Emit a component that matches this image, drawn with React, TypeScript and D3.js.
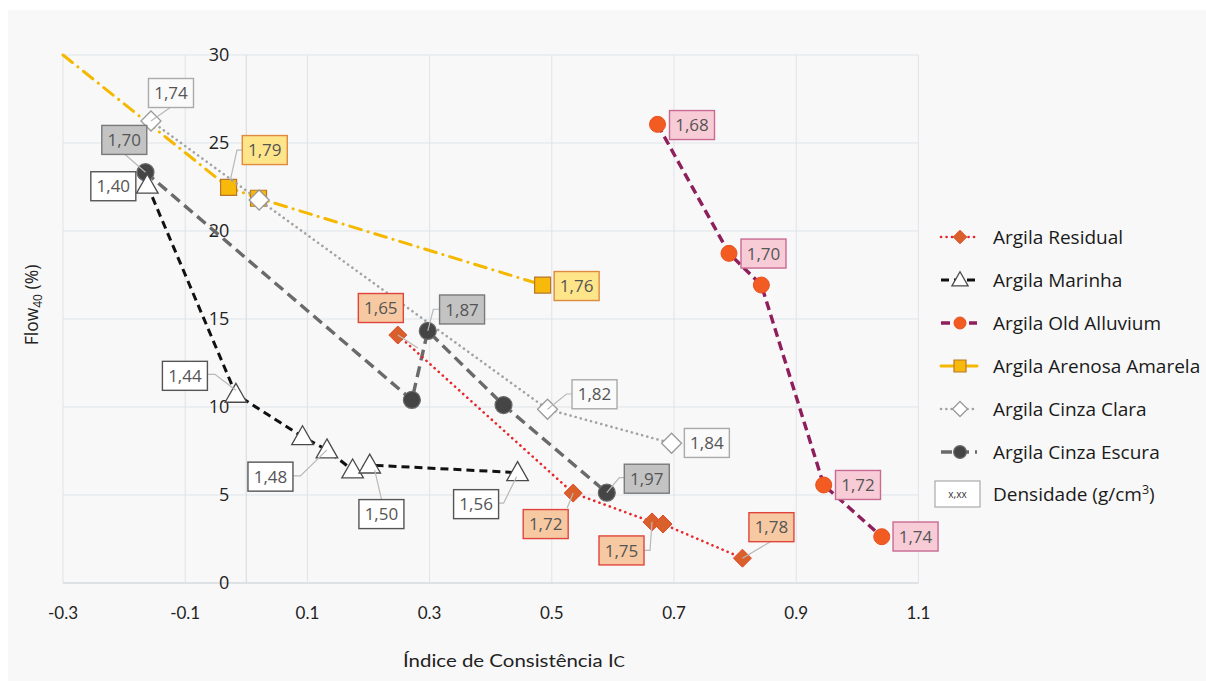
import React from "react";
import * as d3 from "d3";

// ---------- data ----------
const xTicks = [-0.3, -0.1, 0.1, 0.3, 0.5, 0.7, 0.9, 1.1];
const yTicks = [0, 5, 10, 15, 20, 25, 30];

const residualX = [0.248, 0.535, 0.664, 0.682, 0.812];
const residualY = [14.09, 5.11, 3.47, 3.35, 1.41];
const residualLabels = ["1,65", "1,72", "1,75", "", "1,78"];

const marinhaX = [-0.162, -0.017, 0.092, 0.132, 0.174, 0.202, 0.444];
const marinhaY = [22.6, 10.72, 8.31, 7.56, 6.42, 6.7, 6.27];
const marinhaLabels = ["1,40", "1,44", "", "1,48", "", "1,50", "1,56"];

const alluviumX = [0.673, 0.79, 0.843, 0.945, 1.04];
const alluviumY = [26.06, 18.73, 16.93, 5.57, 2.63];
const alluviumLabels = ["1,68", "1,70", "", "1,72", "1,74"];

const arenosaX = [-0.3, -0.029, 0.02, 0.485];
const arenosaY = [30, 22.48, 21.86, 16.93];
const arenosaMarker = [false, true, true, true];
const arenosaLabels = ["", "1,79", "", "1,76"];

const claraX = [-0.156, 0.021, 0.493, 0.696];
const claraY = [26.25, 21.76, 9.87, 7.94];
const claraLabels = ["1,74", "", "1,82", "1,84"];

const escuraX = [-0.165, 0.271, 0.297, 0.421, 0.59];
const escuraY = [23.34, 10.4, 14.32, 10.11, 5.13];
const escuraLabels = ["1,70", "", "1,87", "", "1,97"];

const seriesNames = [
  "Argila Residual",
  "Argila Marinha",
  "Argila Old Alluvium",
  "Argila Arenosa Amarela",
  "Argila Cinza Clara",
  "Argila Cinza Escura",
];

// ---------- layout / styles ----------
const W = 1206;
const H = 681;
const X0 = 63, X1 = 918.4, Y0 = 583, Y1 = 55;

type Style = {
  stroke: string; width: number; dash: string; cap: string;
  marker: "diamond" | "triangle" | "circle" | "square";
  mSize: number; mFill: string; mStroke: string; mStrokeW: number;
  boxFill: string; boxStroke: string;
};

const styles: Style[] = [
  { stroke: "#e8262a", width: 2.6, dash: "0.1 5.4", cap: "round", marker: "diamond", mSize: 9, mFill: "#d9602a", mStroke: "#e4482a", mStrokeW: 1, boxFill: "#f6c9a2", boxStroke: "#e0453c" },
  { stroke: "#111111", width: 3, dash: "8 5", cap: "butt", marker: "triangle", mSize: 11, mFill: "#ffffff", mStroke: "#4a4a4a", mStrokeW: 1.3, boxFill: "#ffffff", boxStroke: "#555555" },
  { stroke: "#8e1f5c", width: 3.4, dash: "9 5", cap: "butt", marker: "circle", mSize: 8, mFill: "#f25c22", mStroke: "#e85020", mStrokeW: 1, boxFill: "#f7ccd6", boxStroke: "#c86a92" },
  { stroke: "#f5b800", width: 3, dash: "12 7 0.1 7", cap: "round", marker: "square", mSize: 8, mFill: "#f7b90a", mStroke: "#b8762a", mStrokeW: 1.2, boxFill: "#ffe58a", boxStroke: "#e08a40" },
  { stroke: "#a3a3a3", width: 2.6, dash: "0.1 5.2", cap: "round", marker: "diamond", mSize: 10, mFill: "#ffffff", mStroke: "#9a9a9a", mStrokeW: 1.3, boxFill: "#fafafa", boxStroke: "#aaaaaa" },
  { stroke: "#6a6a6a", width: 3.4, dash: "11 6", cap: "butt", marker: "circle", mSize: 8.5, mFill: "#454545", mStroke: "#6a6a6a", mStrokeW: 1.2, boxFill: "#c3c3c3", boxStroke: "#7a7a7a" },
];

// label box offsets (px, box centre relative to point) and optional leader elbow
type LP = { dx: number; dy: number; leader?: [number, number][] };
const labelPlacement: Record<string, LP> = {
  "0-0": { dx: -17, dy: -27, leader: [[20, 13], [0, 0]] },
  "0-1": { dx: -27.5, dy: 31, leader: [[-6, 15], [0, 0]] },
  "0-2": { dx: -30.5, dy: 28.5, leader: [[-8, 28.5], [-2, 28.5], [0, 0]] },
  "0-4": { dx: 29, dy: -31, leader: [[28, -16.5], [0, 0]] },
  "1-0": { dx: -34, dy: 1, leader: [] },
  "1-1": { dx: -51, dy: -18.5, leader: [[-29, -20], [-21, -20], [0, -4]] },
  "1-3": { dx: -56.5, dy: 26.7, leader: [[-34, 26], [-26.5, 26], [0, 0]] },
  "1-5": { dx: 11.7, dy: 49, leader: [[11.7, 34], [5, 5]] },
  "1-6": { dx: -41.5, dy: 31.5, leader: [[-19, 30.5], [-14, 30.5], [-1, 4]] },
  "2-0": { dx: 34.5, dy: 0.7, leader: [] },
  "2-1": { dx: 34.5, dy: 0.2, leader: [] },
  "2-3": { dx: 34.3, dy: 0, leader: [] },
  "2-4": { dx: 33.8, dy: -0.2, leader: [] },
  "3-1": { dx: 36.2, dy: -37.3, leader: [[14, -37.3], [8.4, -37.3], [1.7, -7]] },
  "3-3": { dx: 34, dy: 1, leader: [] },
  "4-0": { dx: 20, dy: -28, leader: [[20, -14], [0, 0]] },
  "4-2": { dx: 47, dy: -15, leader: [[25, -15.3], [19, -15.3], [0, 0]] },
  "4-3": { dx: 35.3, dy: -0.3, leader: [] },
  "5-0": { dx: -21.2, dy: -32.3, leader: [[-20.7, -18], [0, 0]] },
  "5-2": { dx: 34.3, dy: -21.5, leader: [[12.3, -21.7], [5.6, -21.7], [0, 0]] },
  "5-4": { dx: 40, dy: -14, leader: [[17.6, -15], [12.6, -15], [0, 0]] },
};

const FONT = "'Open Sans', Lato, sans-serif";
const NARROW = "Lato, 'Open Sans', sans-serif";

function markerPath(kind: Style["marker"], s: number) {
  if (kind === "diamond") return `M0,${-s}L${s},0L0,${s}L${-s},0Z`;
  if (kind === "triangle") return `M0,${-s * 1.0}L${s * 0.98},${s * 0.72}L${-s * 0.98},${s * 0.72}Z`;
  if (kind === "square") return `M${-s},${-s}H${s}V${s}H${-s}Z`;
  return d3.symbol(d3.symbolCircle, Math.PI * s * s)() as string;
}

export default function App() {
  const x = d3.scaleLinear().domain([-0.3, 1.1]).range([X0, X1]);
  const y = d3.scaleLinear().domain([0, 30]).range([Y0, Y1]);

  const allSeries = [
    { xs: residualX, ys: residualY, labels: residualLabels, show: residualX.map(() => true) },
    { xs: marinhaX, ys: marinhaY, labels: marinhaLabels, show: marinhaX.map(() => true) },
    { xs: alluviumX, ys: alluviumY, labels: alluviumLabels, show: alluviumX.map(() => true) },
    { xs: arenosaX, ys: arenosaY, labels: arenosaLabels, show: arenosaMarker },
    { xs: claraX, ys: claraY, labels: claraLabels, show: claraX.map(() => true) },
    { xs: escuraX, ys: escuraY, labels: escuraLabels, show: escuraX.map(() => true) },
  ];

  const line = d3.line<[number, number]>().x((d) => x(d[0])).y((d) => y(d[1]));
  const gridX = [-0.3, -0.1, 0.1, 0.3, 0.5, 0.7, 0.9, 1.1];
  const boxW = 45, boxH = 29;

  const order = [3, 4, 5, 1, 0, 2];

  return (
    <svg width={W} height={H} style={{ position: "absolute", left: 0, top: 0 }} fontFamily={FONT}>
      <rect x={0} y={0} width={W} height={H} fill="#ffffff" />
      <rect x={8} y={10} width={W - 8} height={H - 10} fill="#f8f8f8" />

      {/* grid */}
      {gridX.map((v) => (
        <line key={"gx" + v} x1={x(v)} x2={x(v)} y1={Y1} y2={Y0} stroke="#dfe4e8" strokeWidth={1} />
      ))}
      {yTicks.map((v) => (
        <line key={"gy" + v} x1={X0} x2={X1} y1={y(v)} y2={y(v)} stroke="#dfe4e8" strokeWidth={1} />
      ))}
      <line x1={x(0)} x2={x(0)} y1={Y1} y2={Y0} stroke="#d6dde3" strokeWidth={1.2} />
      <line x1={X0} x2={X1} y1={y(0)} y2={y(0)} stroke="#cfd5da" strokeWidth={1.2} />

      {/* y tick labels */}
      {yTicks.map((v) => (
        <text key={"yt" + v} x={x(0) - 17} y={y(v)} dy="0.35em" textAnchor="end" fontSize={18} fill="#222">
          {v}
        </text>
      ))}
      {/* x tick labels */}
      {xTicks.map((v) => (
        <text key={"xt" + v} x={x(v)} y={619} textAnchor="middle" fontSize={17} fill="#222" fontFamily={NARROW}>
          {d3.format(".1f")(v).replace("−", "-")}
        </text>
      ))}

      {/* axis titles */}
      <text x={514} y={667} textAnchor="middle" fontSize={18} fill="#222" fontFamily={NARROW}
        textLength={222} lengthAdjust="spacingAndGlyphs">
        Índice de Consistência I<tspan fontSize={15}>C</tspan>
      </text>
      <text transform="translate(38,305) rotate(-90)" textAnchor="middle" fontSize={17.5} fill="#222">
        Flow<tspan fontSize={12} dy={4}>40</tspan>
        <tspan dy={-4}> (%)</tspan>
      </text>

      {/* series */}
      {order.map((si) => {
        const s = allSeries[si];
        const st = styles[si];
        const pts = s.xs.map((v, i) => [v, s.ys[i]] as [number, number]);
        return (
          <g key={"s" + si}>
            <path d={line(pts) as string} fill="none" stroke={st.stroke} strokeWidth={st.width}
              strokeDasharray={st.dash} strokeLinecap={st.cap as any} />
            {pts.map((p, i) =>
              s.show[i] ? (
                <path key={i} transform={`translate(${x(p[0])},${y(p[1])})`} d={markerPath(st.marker, st.mSize)}
                  fill={st.mFill} stroke={st.mStroke} strokeWidth={st.mStrokeW} />
              ) : null
            )}
          </g>
        );
      })}

      {/* data labels */}
      {allSeries.map((s, si) =>
        s.labels.map((lab, i) => {
          if (!lab) return null;
          const lp = labelPlacement[`${si}-${i}`];
          if (!lp) return null;
          const px = x(s.xs[i]), py = y(s.ys[i]);
          const cx = px + lp.dx, cy = py + lp.dy;
          const st = styles[si];
          return (
            <g key={`l${si}-${i}`}>
              {lp.leader && lp.leader.length > 1 && (
                <polyline points={lp.leader.map((q) => `${px + q[0]},${py + q[1]}`).join(" ")} fill="none"
                  stroke="#b8b8b8" strokeWidth={1.2} />
              )}
              <rect x={cx - boxW / 2} y={cy - boxH / 2} width={boxW} height={boxH} fill={st.boxFill}
                stroke={st.boxStroke} strokeWidth={1.4} />
              <text x={cx} y={cy} dy="0.36em" textAnchor="middle" fontSize={17} fill="#555">{lab}</text>
            </g>
          );
        })
      )}

      {/* legend */}
      {seriesNames.map((name, i) => {
        const st = styles[i];
        const ly = 237 + i * 43;
        return (
          <g key={"lg" + i}>
            <line x1={941} x2={977} y1={ly} y2={ly} stroke={st.stroke} strokeWidth={st.width}
              strokeDasharray={st.dash} strokeLinecap={st.cap as any} />
            <path transform={`translate(960,${ly})`} d={markerPath(st.marker, st.mSize * 0.75)}
              fill={st.mFill} stroke={st.mStroke} strokeWidth={st.mStrokeW} />
            <text x={993} y={ly} dy="0.35em" fontSize={19} fill="#1a1a1a">{name}</text>
          </g>
        );
      })}
      <g>
        <rect x={935} y={481} width={45} height={26} fill="#ffffff" stroke="#aaaaaa" strokeWidth={1.2} />
        <text x={957.5} y={494} dy="0.35em" textAnchor="middle" fontSize={10} fill="#333">x,xx</text>
        <text x={993} y={494} dy="0.35em" fontSize={19} fill="#1a1a1a">
          Densidade (g/cm<tspan fontSize={12.5} dy={-7}>3</tspan><tspan dy={7}>)</tspan>
        </text>
      </g>
    </svg>
  );
}
